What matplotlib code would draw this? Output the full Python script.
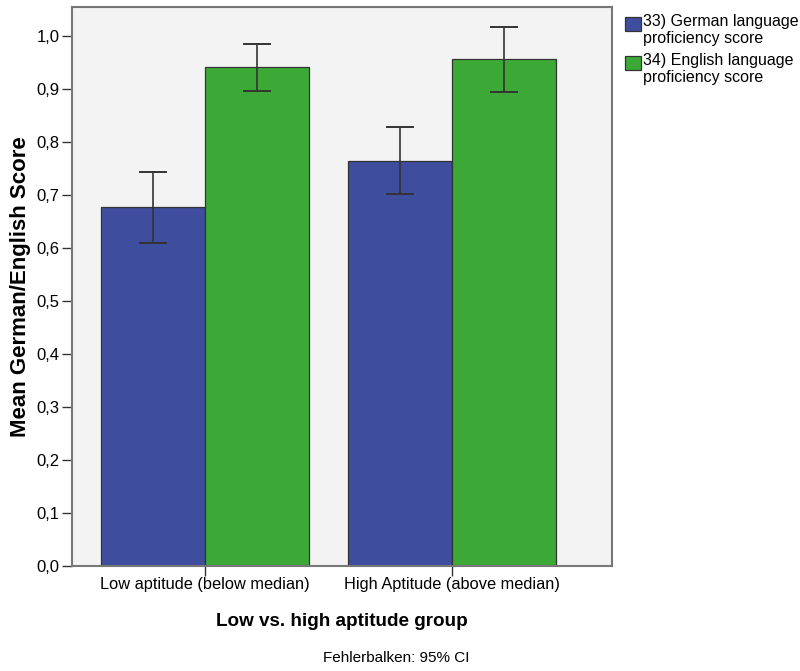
import matplotlib
matplotlib.use('Agg')
from matplotlib import pyplot as plt
from matplotlib.patches import Rectangle
from matplotlib.ticker import FuncFormatter
import numpy as np

# Data
groups = ['Low aptitude (below median)', 'High Aptitude (above median)']
series_names = ['33) German language\nproficiency score', '34) English language\nproficiency score']
german_mean = [0.677, 0.765]
german_lo = [0.609, 0.703]
german_hi = [0.744, 0.828]
english_mean = [0.941, 0.957]
english_lo = [0.897, 0.895]
english_hi = [0.985, 1.018]

colors = ['#3e4d9e', '#3ca937']

plt.rcParams['font.family'] = ['Liberation Sans', 'DejaVu Sans']

W, H = 800, 671
fig = plt.figure(figsize=(W / 100, H / 100), dpi=100)
ax = fig.add_axes([72 / W, 1 - 566 / H, 540 / W, 559 / H])
ax.set_facecolor('#f3f3f3')

x = np.arange(len(groups))
width = 0.42

means = [german_mean, english_mean]
los = [german_lo, english_lo]
his = [german_hi, english_hi]
offsets = [-width / 2, width / 2]

for i in range(2):
	m = np.array(means[i])
	err = [m - np.array(los[i]), np.array(his[i]) - m]
	ax.bar(x + offsets[i], m, width, color=colors[i], edgecolor='#333333', linewidth=0.9, zorder=2)
	ax.errorbar(x + offsets[i], m, yerr=err, fmt='none', ecolor='#333333',
				elinewidth=1.2, capsize=10, capthick=1.4, zorder=3)

ax.set_xlim(-0.538, 1.648)
ax.set_ylim(0, 1.055)
ax.set_yticks(np.arange(0, 1.01, 0.1))
ax.yaxis.set_major_formatter(FuncFormatter(lambda v, p: '{:.1f}'.format(v).replace('.', ',')))
ax.set_xticks(x)
ax.set_xticklabels(groups, fontsize=11.8)
ax.tick_params(axis='y', labelsize=12, length=7, width=1, color='#333333', pad=2)
ax.tick_params(axis='x', length=7, width=1, color='#333333', pad=1)

for s in ax.spines.values():
	s.set_color('#777777')
	s.set_linewidth(1.5)

ax.set_ylabel('Mean German/English Score', fontsize=16, fontweight='bold', labelpad=4)
ax.set_xlabel('Low vs. high aptitude group', fontsize=13.6, fontweight='bold', labelpad=15)

# legend drawn by hand so the swatch sits next to the first line of each label
for i, name in enumerate(series_names):
	top = 17 + i * 39
	fig.add_artist(Rectangle((625 / W, 1 - (top + 14) / H), 16 / W, 14 / H,
							 facecolor=colors[i], edgecolor='#333333', linewidth=0.9,
							 transform=fig.transFigure))
	for j, line in enumerate(name.split('\n')):
		base = top + 9 + j * 17
		fig.text(643 / W, 1 - base / H, line, fontsize=11.5, ha='left', va='baseline')

fig.text(396 / W, 1 - 658 / H, 'Fehlerbalken: 95% CI', fontsize=11, ha='center', va='center')

fig.savefig('out.png', dpi=100)
